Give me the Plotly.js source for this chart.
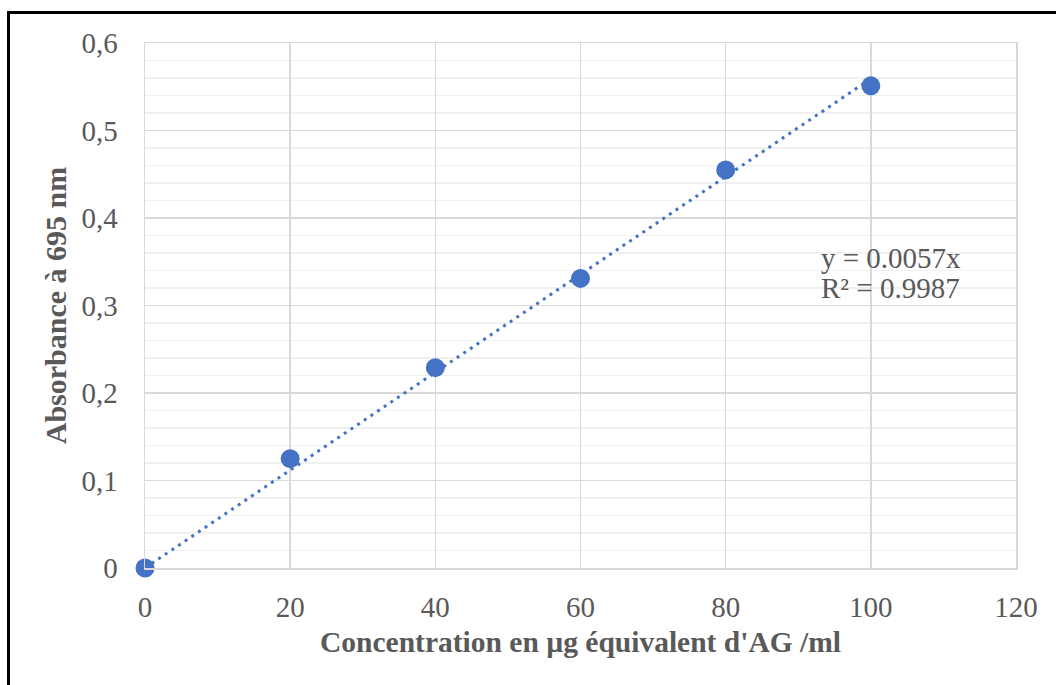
<!DOCTYPE html>
<html>
<head>
<meta charset="utf-8">
<script src="https://cdn.plot.ly/plotly-3.0.1.min.js"></script>
<style>
  html, body { margin: 0; padding: 0; background: #fff; overflow: hidden; }
  #frame { position: absolute; left: 7px; top: 11px; width: 1200px; height: 800px;
           border-left: 3px solid #000; border-top: 3px solid #000; }
  #chart { position: absolute; left: 0; top: 0; width: 1056px; height: 685px; }
</style>
</head>
<body>
<div id="frame"></div>
<div id="chart"></div>
<script>
const concentrations = [0, 20, 40, 60, 80, 100];
const absorbances = [0, 0.125, 0.229, 0.331, 0.455, 0.551];
const equationLabel = 'y = 0.0057x';
const r2Label = 'R² = 0.9987';
const xTitle = "Concentration en µg équivalent d'AG /ml";
const yTitle = 'Absorbance à 695 nm';

// linear trendline through the origin (least squares)
let sxy = 0, sxx = 0;
for (let i = 0; i < concentrations.length; i++) {
  sxy += concentrations[i] * absorbances[i];
  sxx += concentrations[i] * concentrations[i];
}
const slope = sxy / sxx;
const trendX = [concentrations[0], concentrations[concentrations.length - 1]];
const trendY = trendX.map(v => slope * v);

const blue = '#4472C4';
const textGrey = '#595959';
const serif = 'Liberation Serif';

const traces = [
  {
    x: trendX, y: trendY, type: 'scatter', mode: 'lines',
    line: { color: blue, width: 3, dash: '3px,5px' },
    hoverinfo: 'skip', cliponaxis: false
  },
  {
    x: concentrations, y: absorbances, type: 'scatter', mode: 'markers',
    marker: { color: blue, size: 19 },
    cliponaxis: false
  }
];

const layout = {
  width: 1056, height: 685,
  margin: { l: 145, r: 40, t: 43, b: 117, pad: 0 },
  paper_bgcolor: 'rgba(0,0,0,0)',
  plot_bgcolor: '#fff',
  showlegend: false,
  separators: ', ',
  font: { family: serif, color: textGrey, size: 29 },
  xaxis: {
    range: [0, 120], dtick: 20, tick0: 0,
    showgrid: true, gridcolor: '#d9d9d9', gridwidth: 1.5,
    zeroline: false, showline: true, linecolor: '#d9d9d9', linewidth: 1.5, mirror: true,
    ticks: '', ticklabelstandoff: 13,
    tickfont: { family: serif, size: 29, color: textGrey },
    title: { text: xTitle, standoff: 9, font: { family: serif, size: 29.5, color: textGrey, weight: 'bold' } },
    fixedrange: true
  },
  yaxis: {
    range: [0, 0.6], dtick: 0.1, tick0: 0,
    showgrid: true, gridcolor: '#d9d9d9', gridwidth: 1.5,
    minor: { dtick: 0.02, showgrid: true, gridcolor: '#f0f0f0', gridwidth: 1.5 },
    zeroline: false, showline: true, linecolor: '#d9d9d9', linewidth: 1.5, mirror: true,
    ticks: '', ticklabelstandoff: 20,
    tickfont: { family: serif, size: 29, color: textGrey },
    title: { text: yTitle, standoff: 6, font: { family: serif, size: 30, color: textGrey, weight: 'bold' } },
    fixedrange: true
  },
  annotations: [
    { x: 92.8, y: 0.354, xref: 'x', yref: 'y', text: equationLabel, showarrow: false,
      xanchor: 'left', yanchor: 'middle', font: { family: serif, size: 29, color: textGrey } },
    { x: 92.8, y: 0.320, xref: 'x', yref: 'y', text: r2Label, showarrow: false,
      xanchor: 'left', yanchor: 'middle', font: { family: serif, size: 29, color: textGrey } }
  ]
};

Plotly.newPlot('chart', traces, layout, { displayModeBar: false, staticPlot: true });
</script>
</body>
</html>
